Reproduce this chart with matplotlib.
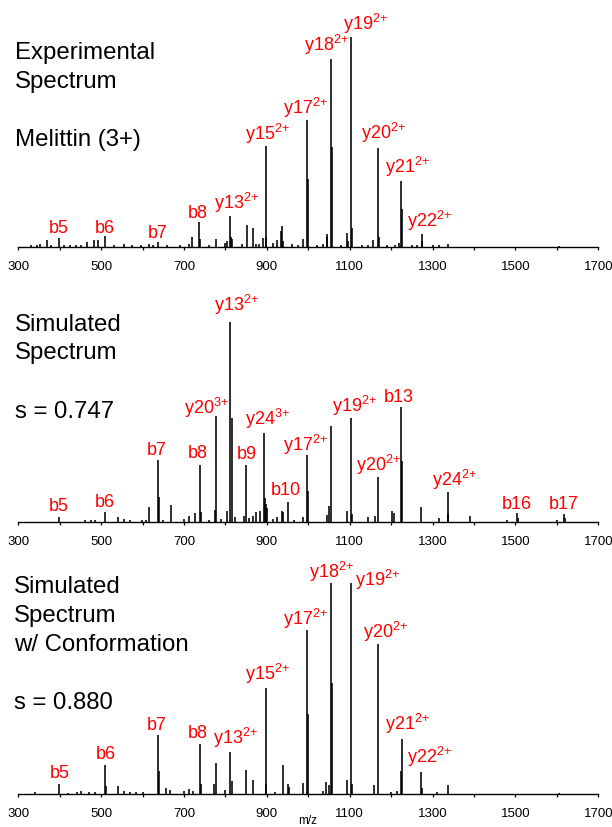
import numpy as np
import matplotlib.pyplot as plt

plt.rcParams['font.family'] = ['Liberation Sans', 'DejaVu Sans']
plt.rcParams['mathtext.fontset'] = 'custom'
plt.rcParams['mathtext.rm'] = 'Liberation Sans'
plt.rcParams['mathtext.it'] = 'Liberation Sans:italic'

# --- experimental spectrum (m/z, relative intensity %) ---
exp_mz = [330, 345, 352, 370, 380, 398, 410, 425, 440, 452, 465, 482, 492, 510, 530,
          556, 575, 595, 615, 625, 637, 660, 690, 712, 720, 736, 738, 760, 777, 800,
          804, 810, 813, 816, 840, 851, 867, 873, 882, 891, 897, 898.5, 915, 924, 934,
          936, 940, 960, 975, 987, 997, 998.5, 1020, 1035, 1044, 1046, 1055, 1056.5,
          1080, 1093, 1095, 1104, 1105.5, 1130, 1145, 1157, 1168, 1169.5, 1190, 1210,
          1218, 1223, 1225, 1250, 1262, 1273.7, 1275, 1300, 1315, 1337, 1605]
exp_int = [0.8, 1.0, 1.2, 3.2, 1.0, 4.5, 1.0, 0.8, 1.0, 0.8, 2.2, 3.3, 3.5, 5.2, 1.0,
           1.5, 1.0, 0.8, 1.2, 1.0, 2.5, 1.0, 0.8, 1.5, 4.8, 11.9, 4.0, 1.0, 3.8, 2.0,
           3.0, 14.6, 5.0, 4.0, 1.5, 10.3, 8.9, 1.5, 1.5, 4.4, 48.2, 5.0, 2.0, 3.3, 7.6,
           10.0, 3.0, 1.5, 1.0, 3.8, 60.6, 32.4, 1.0, 1.5, 6.0, 5.0, 89.7, 47.5,
           1.0, 6.5, 3.0, 100.0, 9.2, 1.0, 1.0, 3.3, 47.1, 5.0, 1.0, 1.0,
           2.0, 31.2, 18.0, 0.8, 1.0, 6.0, 3.0, 0.8, 1.0, 1.3, 0.5]

# --- simulated spectrum ---
sim_mz = [398, 460, 475, 485, 510, 540, 555, 570, 598, 608, 615, 636, 638.5, 650, 669,
          700, 712, 727, 738.6, 740, 760, 773.6, 778, 790, 803, 811, 816, 822, 845,
          849.6, 858, 866, 873.8, 883, 893, 895.5, 897, 900, 915, 925, 935.8, 938,
          951.7, 965, 988, 997, 999, 1044.4, 1050, 1055, 1092.6, 1104, 1106, 1143,
          1160, 1168, 1202, 1206, 1223, 1225.5, 1272.8, 1315, 1336, 1338, 1391,
          1480, 1503, 1505, 1600, 1617, 1619]
sim_int = [2.3, 0.8, 1.0, 1.0, 4.8, 2.2, 1.5, 1.0, 0.8, 1.0, 7.2, 31.0, 12.5, 1.0, 8.3,
           1.5, 2.7, 4.2, 28.5, 5.0, 1.0, 5.8, 52.8, 1.5, 5.5, 100.0, 52.0, 2.5, 3.0,
           28.3, 2.0, 3.0, 4.7, 5.5, 44.5, 12.0, 8.8, 7.0, 1.5, 2.5, 5.5, 5.0,
           10.0, 1.0, 2.5, 33.3, 15.5, 3.5, 8.0, 47.7, 5.2, 51.7, 4.0, 2.2,
           3.0, 22.5, 5.2, 4.5, 57.3, 30.3, 7.2, 1.7, 14.8, 4.0, 2.7,
           0.8, 4.2, 2.0, 0.8, 3.7, 2.0]

# --- simulated spectrum with conformation ---
conf_mz = [340, 398, 420, 442, 452, 470, 485, 510, 512, 540, 556, 570, 585, 600, 636,
           638.5, 657, 665, 700, 712, 722, 738, 740, 772, 778, 800, 811, 816, 850,
           867, 897, 898.5, 920, 938, 951, 953, 987, 997, 999.5, 1036, 1043, 1050,
           1055, 1056.5, 1094, 1104, 1106, 1158, 1168, 1200, 1215, 1223, 1225,
           1272, 1274, 1310, 1336, 1605]
conf_int = [1.3, 4.9, 0.8, 1.3, 1.6, 1.0, 1.0, 13.9, 4.0, 3.9, 1.5, 1.0, 1.0, 1.0, 28.0,
            11.0, 2.8, 2.0, 1.5, 2.7, 1.5, 23.6, 5.0, 4.9, 14.8, 2.0, 20.2, 6.3, 11.5,
            6.8, 50.4, 5.0, 1.0, 13.9, 4.7, 3.5, 5.4, 77.6, 37.8, 1.5, 5.8, 4.5,
            99.7, 52.8, 6.8, 100.0, 4.7, 4.6, 71.2, 1.0, 1.5, 11.0, 26.3,
            10.6, 3.0, 1.0, 4.3, 0.5]

# annotations: (text, left m/z, baseline intensity)
exp_labels = [('b5', 373.5, 7.0), ('b6', 484.7, 7.0), ('b7', 613.7, 4.9), ('b8', 708, 14.5),
              ('y13', 772, 18.4), ('y15', 847.4, 51.5), ('y17', 938.8, 63.8),
              ('y18', 988.7, 94.0), ('y19', 1084.8, 103.7), ('y20', 1128, 51.8),
              ('y21', 1185.6, 35.6), ('y22', 1238.4, 10.2)]
exp_charges = ['', '', '', '', '2+', '2+', '2+', '2+', '2+', '2+', '2+', '2+']

sim_labels = [('b5', 373.5, 5.8), ('b6', 484.7, 7.8), ('b7', 610.9, 33.8), ('b8', 708, 32.5),
              ('y20', 700.4, 54.5), ('y13', 772, 105.8), ('b9', 827.6, 32.0),
              ('y24', 846.5, 48.7), ('b10', 910.5, 14.0), ('y17', 938.8, 35.8),
              ('y19', 1057.5, 55.3), ('b13', 1181.8, 60.3), ('y20', 1115, 25.8),
              ('y24', 1298.7, 18.3), ('b16', 1466.4, 7.0), ('b17', 1581.4, 6.7)]
sim_charges = ['', '', '', '', '3+', '2+', '', '3+', '', '2+', '2+', '', '2+', '2+', '', '']

conf_labels = [('b5', 375.4, 8.2), ('b6', 486.6, 17.3), ('b7', 609, 30.7), ('b8', 708, 27.1),
               ('y13', 771, 24.4), ('y15', 847.4, 54.6), ('y17', 938.8, 80.6),
               ('y18', 1002.8, 102.7), ('y19', 1113, 98.7), ('y20', 1132, 74.5),
               ('y21', 1185.6, 30.7), ('y22', 1238.4, 15.3)]
conf_charges = ['', '', '', '', '2+', '2+', '2+', '2+', '2+', '2+', '2+', '2+']

titles = [['Experimental', 'Spectrum', '', 'Melittin (3+)'],
          ['Simulated', 'Spectrum', '', 's = 0.747'],
          ['Simulated', 'Spectrum', 'w/ Conformation', 's = 0.880']]

W, H = 612, 828
fig = plt.figure(figsize=(W / 100, H / 100), dpi=100)

# layout in pixels: axis line y, pixels per 100 %
panels = [(exp_mz, exp_int, exp_labels, exp_charges, 248.0, 210.0),
          (sim_mz, sim_int, sim_labels, sim_charges, 522.7, 200.0),
          (conf_mz, conf_int, conf_labels, conf_charges, 795.3, 211.6)]
title_y = [[59, 88, None, 146], [331, 359.5, None, 418], [593, 622, 651, 709]]
title_x = [14.8, 14.8, 13.7]

x0, x1 = 18.3, 598.3
ax_h = 235.0
red = '#ff0000'

for i, (mz, inten, labels, charges, base, scale) in enumerate(panels):
    ax = fig.add_axes([x0 / W, 1 - base / H, (x1 - x0) / W, ax_h / H])
    ax.vlines(mz, 0, inten, color='black', lw=1.15)
    ax.set_xlim(300, 1700)
    ax.set_ylim(0, 100 * ax_h / scale)
    for s in ['top', 'left', 'right']:
        ax.spines[s].set_visible(False)
    ax.spines['bottom'].set_linewidth(1.0)
    ax.set_yticks([])
    ax.set_xticks(np.arange(300, 1701, 200))
    ax.set_xticks(np.arange(400, 1700, 200), minor=True)
    ax.tick_params(axis='x', which='both', direction='out', length=2.5, width=0.9,
                   pad=7, labelsize=9.5)
    ax.patch.set_alpha(0)
    for (txt, lx, ly), ch in zip(labels, charges):
        s = txt if ch == '' else txt + r'$^{\mathregular{' + ch.replace('+', '{+}') + '}}$'
        ax.text(lx, ly, s, color=red, fontsize=13, ha='left', va='baseline')
    for line, ty in zip(titles[i], title_y[i]):
        if ty is None:
            continue
        fig.text(title_x[i] / W, 1 - ty / H, line, fontsize=17.3, ha='left', va='baseline')

fig.text(308 / W, 1 - 824 / H, 'm/z', fontsize=8.5, ha='center', va='baseline')

fig.savefig('out.png', dpi=100)
